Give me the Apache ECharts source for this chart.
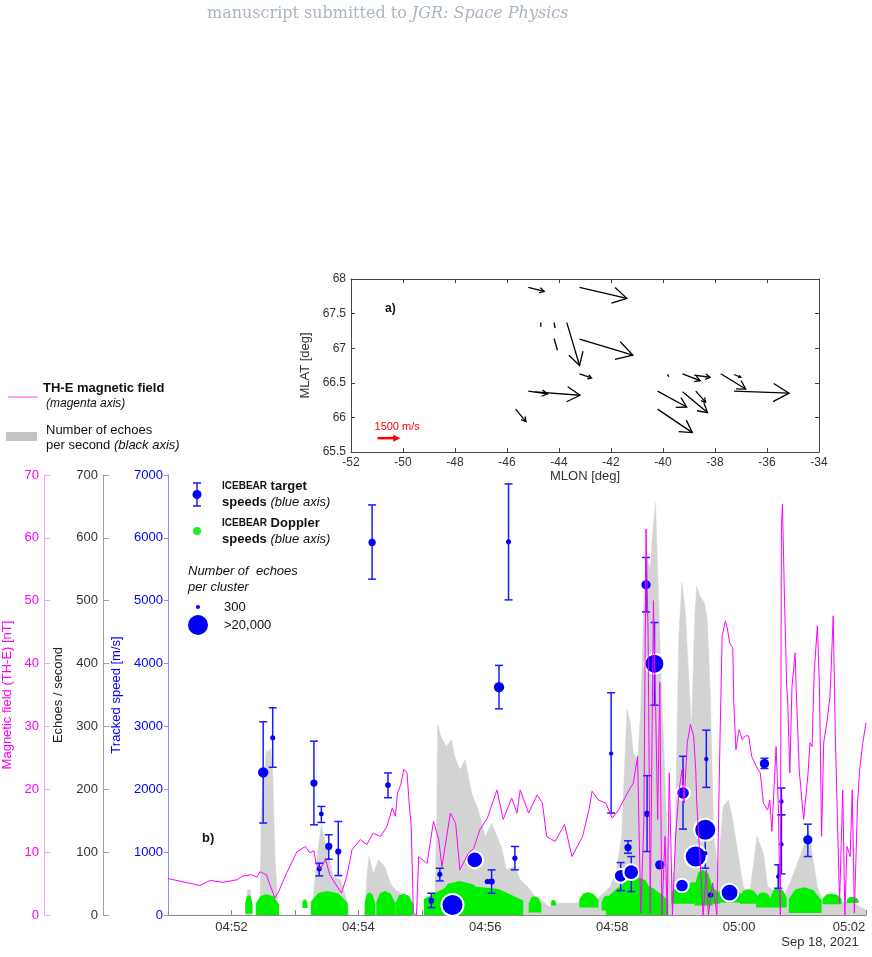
<!DOCTYPE html>
<html>
<head>
<meta charset="utf-8">
<script src="https://cdn.jsdelivr.net/npm/echarts@6/dist/echarts.min.js"></script>
<style>
  html, body { margin: 0; padding: 0; background: #fff; }
  #chart { width: 872px; height: 957px; }
</style>
</head>
<body>
<div id="chart"></div>
<script>
// ---- panel a: vectors [lon0, lat0, lon1, lat1] ----
const vectors = [
  [-45.18, 67.88, -44.57, 67.82],
  [-43.21, 67.88, -41.39, 67.72],
  [-43.70, 67.37, -43.21, 66.75],
  [-43.21, 67.13, -41.16, 66.90],
  [-43.21, 66.63, -42.75, 66.57],
  [-45.18, 66.38, -44.44, 66.34],
  [-44.93, 66.37, -43.19, 66.32],
  [-45.67, 66.12, -45.27, 65.94],
  [-40.21, 66.38, -39.09, 66.15],
  [-40.21, 66.12, -38.87, 65.78],
  [-39.25, 66.37, -38.29, 66.07],
  [-38.74, 66.38, -38.36, 66.22],
  [-39.25, 66.63, -38.57, 66.53],
  [-38.80, 66.61, -38.19, 66.58],
  [-37.78, 66.63, -36.82, 66.41],
  [-37.27, 66.62, -37.01, 66.58],
  [-37.27, 66.38, -35.15, 66.35]
];
const dashes = [
  [-44.70, 67.37, -44.70, 67.31],
  [-44.19, 67.37, -44.15, 67.29],
  [-44.19, 67.14, -44.06, 66.97],
  [-39.83, 66.62, -39.77, 66.59]
];
const scaleArrow = [[-50.98, 65.70, -50.10, 65.70]];
const scaleLabel = '1500 m/s';
const lonTicks = { min: -52, max: -34, step: 2 };
const latTicks = { min: 65.5, max: 68, step: 0.5 };

// ---- panel b: seconds after 04:51:00 ----
const magSec = [0,30,40,52,65,71,79,84,87,93,101,104,112,122,130,134,138,140,144,149,153,160,164,169,174,182,188,194,201,207,212,215,217,220,223,226,228,230,232,235,237,245,251,256,259,267,272,276,284,289,295,302,311,317,325,330,333,341,349,354,358,366,375,382,392,398,401,407,414,420,426,436,440,444,447,450,452,454,456,459,461,463,465,467,470,472,474,477,480,483,486,488,491,494,497,499,500,506,509,511,515,519,522,524,527,529,531,534,535,537,540,543,546,549,552,557,560,563,567,569,571,575,577,579,580,581,583,585,586,588,590,593,594,597,598,601,605,607,609,611,614,616,618,620,623,626,629,631,633,635,638,640,642,645,647,649,652,654,657,660];
const magNT = [5.8,4.7,5.5,5.2,5.6,6.2,6.4,6.0,6.9,6.4,2.7,3.5,6.6,10.1,10.9,9.9,10.2,8.2,7.3,8.8,6.4,4.5,3.5,6.1,10.4,12.0,11.2,13.0,12.5,14.1,17.0,15.7,19.4,20.7,23.2,22.6,17.8,14.1,0.3,0,9.3,8.2,14.9,12.0,7.7,16.2,14.6,7.2,9.8,10.6,13.6,15.4,19.9,15.2,18.6,16.2,19.9,16.2,19.1,17.8,12.5,11.7,14.4,9.3,12.5,16.7,19.7,18.3,17.8,15.4,16.7,19.9,21.0,25.2,0.3,15.2,61.4,44.4,0.3,50,33.8,15.2,37,0,12.5,0,22.6,0,12.5,19.4,23.1,17.8,27.4,30.3,28.5,23.1,17.8,0,7.2,0,5.1,0,28.5,44.4,46.8,45.5,43.3,42.5,33.8,26.3,29.5,27.9,28.5,28.5,25.2,23.4,22.6,17.8,16.7,18.3,13.3,26.8,17.8,0,61.9,65.4,49.7,36.4,33.8,22.6,36.4,41.7,35.9,22.6,21.0,15.2,22.1,27.4,26.8,38.5,46.0,36.4,12.5,27.4,30.6,34.8,47.6,28.5,15.2,1.9,19.9,0,10.9,9.3,19.9,0.3,17.8,23.1,27.4,30.6];

const echoSec = [0,74,75,78,79,87,88,90,92,93,95,97,99,101,103,105,136,138,141,145,148,153,156,163,169,171,186,188,190,194,199,205,210,215,220,226,229,252,254,255,258,263,268,271,276,281,287,292,296,300,306,315,320,328,333,340,347,353,360,370,385,393,405,418,424,429,434,437,440,444,447,450,453,456,458,461,463,466,469,472,475,479,483,486,489,492,495,498,500,503,507,510,513,516,520,525,530,534,539,544,550,557,563,567,582,588,595,601,606,609,614,620,626,636,645,654,660];
const echoCount = [0,0,40,40,0,0,150,230,240,263,258,266,230,100,35,0,0,40,93,143,120,88,61,56,24,0,0,60,93,66,88,77,51,40,35,24,0,0,141,303,284,268,279,252,231,247,194,173,151,125,146,109,72,77,56,45,30,24,13,19,19,24,24,45,72,125,327,306,258,242,327,497,571,550,603,656,550,391,258,125,45,72,444,529,486,391,295,470,523,507,497,470,338,125,72,173,183,151,98,45,35,125,98,45,29,51,82,109,136,98,45,19,29,19,24,13,8];

// Doppler clouds: [startSec, endSec, low m/s, high m/s]
const dopplerClouds = [
  [73,80,20,320],[83,105,0,330],
  [127,132,110,250],[135,170,0,380],
  [186,196,0,360],[197,215,0,380],[215,232,0,340],
  [242,336,0,460],[256,300,0,540],
  [341,353,40,300],[362,367,150,240],[389,407,120,360],[410,421,70,310],
  [414,473,0,480],[425,460,0,620],
  [476,522,180,520],[498,515,150,720],[519,543,200,440],
  [541,558,180,410],[556,571,120,360],[570,585,120,430],[587,618,30,440],
  [619,637,170,340],[642,653,190,290]
];

// target speeds: time, speed, error low, error high, echoes per cluster
const targetSec   = [90,99,138,145,143,152,161,193,208,249,257,269,290,306,302,328,313,322,419,452,460,453,435,428,438,465,487,486,499,508,509,508,513,531,564,580,580,577,605];
const targetSpeed = [2270,2818,2100,1606,734,1090,1010,5928,2068,228,649,160,877,532,532,904,3625,5938,2568,5253,3998,1610,1074,622,681,798,1941,468,930,1356,2483,984,319,356,2408,1127,1806,611,1196];
const targetLow   = [1463,2350,1435,1472,622,888,627,5343,1866,117,542,null,null,346,null,718,3280,5013,1622,4822,3338,1010,983,388,372,null,1367,null,null,null,2030,745,null,null,2330,654,1595,426,930];
const targetHigh  = [3073,3297,2765,1727,824,1276,1488,6524,2260,346,744,null,null,718,null,1090,3971,6858,3536,5688,4653,2217,1180,834,930,null,2525,null,null,null,2940,1260,null,null,2493,1595,2020,798,1445];
const targetCount = [3000,250,990,200,250,990,560,990,400,400,250,25000,10400,600,300,250,3000,250,100,2200,15800,560,990,6200,8900,2200,6200,6200,22000,25000,100,100,300,12100,2200,100,100,100,2200];

const timeLabels = ['04:52','04:54','04:56','04:58','05:00','05:02'];

const FONT = 'Liberation Sans';
const T0 = new Date(2021, 8, 18, 4, 51, 0).getTime();
const ts = s => T0 + s * 1000;
const sizeFor = n => 3 + 19 * Math.sqrt(Math.min(n, 20000) / 20000);
const plain = v => String(v);

function arrowItem(color, width, filled) {
  return function (params, api) {
    const a = api.coord([api.value(0), api.value(1)]);
    const b = api.coord([api.value(2), api.value(3)]);
    const dx = b[0] - a[0], dy = b[1] - a[1];
    const L = Math.hypot(dx, dy), ang = Math.atan2(dy, dx);
    const h = filled ? 8 : L * 0.33, w = filled ? Math.PI / 7 : Math.PI / 6;
    const p1 = [b[0] - h * Math.cos(ang - w), b[1] - h * Math.sin(ang - w)];
    const p2 = [b[0] - h * Math.cos(ang + w), b[1] - h * Math.sin(ang + w)];
    const kids = [
      { type: 'line', shape: { x1: a[0], y1: a[1], x2: filled ? b[0] - h * 0.8 : b[0], y2: b[1] },
        style: { stroke: color, lineWidth: width } }
    ];
    if (filled) {
      kids.push({ type: 'polygon', shape: { points: [p1, b, p2] }, style: { fill: color } });
      kids.push({ type: 'text', x: a[0] - 3, y: a[1] - 11,
        style: { text: scaleLabel, fill: color, font: '11px ' + FONT, verticalAlign: 'middle' } });
    } else {
      kids.push({ type: 'polyline', shape: { points: [p1, b, p2] },
        style: { stroke: color, lineWidth: width, fill: null } });
    }
    return { type: 'group', children: kids };
  };
}

const chart = echarts.init(document.getElementById('chart'), null, { renderer: 'canvas' });

const boxAxis = (pos, idx, r) => ({
  gridIndex: 0, type: 'value', position: pos, min: r.min, max: r.max, interval: r.step,
  axisLine: { show: true, lineStyle: { color: '#444', width: 1 } },
  axisTick: { show: true, inside: true, length: 4, lineStyle: { color: '#444' } },
  axisLabel: { show: idx === 0, color: '#333', fontSize: 12, fontFamily: FONT, margin: 5, formatter: plain },
  splitLine: { show: false }
});

const option = {
  animation: false,
  textStyle: { fontFamily: FONT },
  grid: [
    { left: 351, top: 279, width: 468, height: 173, outerBoundsMode: 'none', containLabel: false },
    { left: 168, top: 475, width: 698, height: 440, outerBoundsMode: 'none', containLabel: false }
  ],
  xAxis: [
    Object.assign(boxAxis('bottom', 0, lonTicks), {
      name: 'MLON [deg]', nameLocation: 'middle', nameGap: 14,
      nameTextStyle: { color: '#333', fontSize: 13, fontFamily: FONT }
    }),
    boxAxis('top', 1, lonTicks),
    {
      gridIndex: 1, type: 'time', min: ts(0), max: ts(660),
      minInterval: 120000, maxInterval: 120000,
      axisLine: { show: true, lineStyle: { color: '#888', width: 1 } },
      axisTick: { show: true, inside: true, length: 5, lineStyle: { color: '#888' } },
      axisLabel: {
        color: '#333', fontSize: 13, fontFamily: FONT, margin: 6, showMinLabel: false,
        formatter: v => {
          const t = echarts.time.format(v, '{HH}:{mm}', false);
          if (t === timeLabels[timeLabels.length - 1]) return '{end|' + t + '}';
          return timeLabels.indexOf(t) >= 0 ? t : '';
        },
        rich: { end: { fontSize: 13, fontFamily: FONT, color: '#333', padding: [0, 34, 0, 0] } }
      },
      splitLine: { show: false }
    }
  ],
  yAxis: [
    Object.assign(boxAxis('left', 0, latTicks), {
      name: 'MLAT [deg]', nameLocation: 'middle', nameGap: 24, nameRotate: 90,
      nameTextStyle: { color: '#333', fontSize: 13, fontFamily: FONT }
    }),
    boxAxis('right', 1, latTicks),
    {
      gridIndex: 1, type: 'value', position: 'left', offset: 0, min: 0, max: 7000, interval: 1000,
      name: 'Tracked speed [m/s]', nameLocation: 'middle', nameGap: 42, nameRotate: 90,
      nameTextStyle: { color: '#0000ff', fontSize: 13, fontFamily: FONT },
      axisLine: { show: true, lineStyle: { color: '#8c8cff' } },
      axisTick: { show: true, length: 4, lineStyle: { color: '#8c8cff' } },
      axisLabel: { color: '#0000ff', fontSize: 13, fontFamily: FONT, margin: 5, formatter: plain },
      splitLine: { show: false }
    },
    {
      gridIndex: 1, type: 'value', position: 'left', offset: 65, min: 0, max: 700, interval: 100,
      name: 'Echoes / second', nameLocation: 'middle', nameGap: 36, nameRotate: 90,
      nameTextStyle: { color: '#222', fontSize: 13, fontFamily: FONT },
      axisLine: { show: true, lineStyle: { color: '#a0a0a0' } },
      axisTick: { show: true, inside: true, length: 6, lineStyle: { color: '#a0a0a0' } },
      axisLabel: { color: '#333', fontSize: 13, fontFamily: FONT, margin: 5, formatter: plain },
      splitLine: { show: false }
    },
    {
      gridIndex: 1, type: 'value', position: 'left', offset: 124, min: 0, max: 70, interval: 10,
      name: 'Magnetic field (TH-E) [nT]', nameLocation: 'middle', nameGap: 28, nameRotate: 90,
      nameTextStyle: { color: '#ff00ff', fontSize: 13, fontFamily: FONT },
      axisLine: { show: true, lineStyle: { color: '#f7a6f7' } },
      axisTick: { show: true, inside: true, length: 6, lineStyle: { color: '#f7a6f7' } },
      axisLabel: { color: '#ff00ff', fontSize: 13, fontFamily: FONT, margin: 5, formatter: plain },
      splitLine: { show: false }
    }
  ],
  series: [
    {
      type: 'custom', xAxisIndex: 0, yAxisIndex: 0, z: 3,
      data: vectors, encode: { x: [0, 2], y: [1, 3] },
      renderItem: arrowItem('#000', 1.3, false)
    },
    {
      type: 'custom', xAxisIndex: 0, yAxisIndex: 0, z: 3,
      data: dashes, encode: { x: [0, 2], y: [1, 3] },
      renderItem: (params, api) => {
        const a = api.coord([api.value(0), api.value(1)]);
        const b = api.coord([api.value(2), api.value(3)]);
        return { type: 'line', shape: { x1: a[0], y1: a[1], x2: b[0], y2: b[1] },
          style: { stroke: '#000', lineWidth: 1.3 } };
      }
    },
    {
      type: 'custom', xAxisIndex: 0, yAxisIndex: 0, z: 3,
      data: scaleArrow, encode: { x: [0, 2], y: [1, 3] },
      renderItem: arrowItem('#ff0000', 2.5, true)
    },
    {
      name: 'echoes', type: 'line', xAxisIndex: 2, yAxisIndex: 3, z: 1,
      data: echoSec.map((s, i) => [ts(s), echoCount[i]]),
      symbol: 'none', lineStyle: { width: 0.5, color: '#d3d3d3' },
      areaStyle: { color: '#d3d3d3', opacity: 1 }
    },
    {
      name: 'doppler', type: 'custom', xAxisIndex: 2, yAxisIndex: 2, z: 2,
      data: dopplerClouds.map(d => [ts(d[0]), ts(d[1]), d[2], d[3]]),
      encode: { x: [0, 1], y: [2, 3] },
      renderItem: (params, api) => {
        const a = api.coord([api.value(0), api.value(2)]);
        const b = api.coord([api.value(1), api.value(3)]);
        const w = b[0] - a[0], h = a[1] - b[1];
        const pts = [
          [a[0], a[1]], [a[0], a[1] - h * 0.55], [a[0] + w * 0.2, b[1] + h * 0.08],
          [a[0] + w * 0.45, b[1]], [a[0] + w * 0.75, b[1] + h * 0.1],
          [b[0], a[1] - h * 0.5], [b[0], a[1]]
        ];
        return { type: 'polygon', shape: { points: pts }, style: { fill: '#00f000' } };
      }
    },
    {
      name: 'errbars', type: 'custom', xAxisIndex: 2, yAxisIndex: 2, z: 3,
      data: targetSec.map((s, i) => [ts(s), targetLow[i], targetHigh[i]]).filter(d => d[1] != null),
      encode: { x: 0, y: [1, 2] },
      renderItem: (params, api) => {
        const lo = api.coord([api.value(0), api.value(1)]);
        const hi = api.coord([api.value(0), api.value(2)]);
        const st = { stroke: '#1a1aff', lineWidth: 1.5 };
        return { type: 'group', children: [
          { type: 'line', shape: { x1: lo[0], y1: lo[1], x2: hi[0], y2: hi[1] }, style: st },
          { type: 'line', shape: { x1: hi[0] - 4, y1: hi[1], x2: hi[0] + 4, y2: hi[1] }, style: st },
          { type: 'line', shape: { x1: lo[0] - 4, y1: lo[1], x2: lo[0] + 4, y2: lo[1] }, style: st }
        ] };
      }
    },
    {
      name: 'targets', type: 'scatter', xAxisIndex: 2, yAxisIndex: 2, z: 4,
      data: targetSec.map((s, i) => ({
        value: [ts(s), targetSpeed[i], targetCount[i]],
        itemStyle: targetCount[i] >= 5000 ? { borderColor: '#fff', borderWidth: 2 } : {}
      })),
      symbolSize: v => sizeFor(v[2]),
      itemStyle: { color: '#0000f5', opacity: 1 }
    },
    {
      name: 'mag', type: 'line', xAxisIndex: 2, yAxisIndex: 4, z: 5,
      data: magSec.map((s, i) => [ts(s), magNT[i]]),
      symbol: 'none', lineStyle: { width: 1, color: '#ff00ff' }
    }
  ],
  graphic: [
    { type: 'text', x: 207, y: 14, style: {
        text: 'manuscript submitted to {i|JGR: Space Physics}',
        font: '16px "DejaVu Serif"', fill: '#a9b5c2', verticalAlign: 'middle',
        rich: { i: { fontStyle: 'italic', fontFamily: 'DejaVu Serif', fontSize: 16, fill: '#a9b5c2' } } } },
    { type: 'text', x: 385, y: 309, style: { text: 'a)', font: 'bold 12px ' + FONT, fill: '#111', verticalAlign: 'middle' } },
    { type: 'text', x: 202, y: 838, style: { text: 'b)', font: 'bold 13px ' + FONT, fill: '#111', verticalAlign: 'middle' } },
    { type: 'text', x: 820, y: 942, style: { text: 'Sep 18, 2021', font: '13px ' + FONT, fill: '#333', align: 'center', verticalAlign: 'middle' } },

    // outer legend
    { type: 'line', shape: { x1: 8, y1: 397, x2: 38, y2: 397 }, style: { stroke: '#ff40ff', lineWidth: 1 } },
    { type: 'text', x: 43, y: 388, style: { text: 'TH-E magnetic field', font: 'bold 13px ' + FONT, fill: '#111', verticalAlign: 'middle' } },
    { type: 'text', x: 46, y: 404, style: { text: '(magenta axis)', font: 'italic 12px ' + FONT, fill: '#111', verticalAlign: 'middle' } },
    { type: 'rect', shape: { x: 6, y: 432, width: 31, height: 9 }, style: { fill: '#c4c4c4' } },
    { type: 'text', x: 46, y: 430, style: { text: 'Number of echoes', font: '13px ' + FONT, fill: '#111', verticalAlign: 'middle' } },
    { type: 'text', x: 46, y: 445, style: {
        text: 'per second {i|(black axis)}', font: '13px ' + FONT, fill: '#111', verticalAlign: 'middle',
        rich: { i: { fontStyle: 'italic', fontSize: 13, fontFamily: FONT, fill: '#111' } } } },

    // inner legend
    { type: 'line', shape: { x1: 197, y1: 483, x2: 197, y2: 506 }, style: { stroke: '#1a1aff', lineWidth: 1.5 } },
    { type: 'line', shape: { x1: 193, y1: 483, x2: 201, y2: 483 }, style: { stroke: '#1a1aff', lineWidth: 1.5 } },
    { type: 'line', shape: { x1: 193, y1: 506, x2: 201, y2: 506 }, style: { stroke: '#1a1aff', lineWidth: 1.5 } },
    { type: 'circle', shape: { cx: 197, cy: 494.5, r: 4.5 }, style: { fill: '#0000f5' } },
    { type: 'text', x: 222, y: 486, style: {
        text: '{sc|ICEBEAR} target', font: 'bold 13px ' + FONT, fill: '#111', verticalAlign: 'middle',
        rich: { sc: { fontSize: 10, fontWeight: 'bold', fontFamily: FONT, fill: '#111' } } } },
    { type: 'text', x: 222, y: 502, style: {
        text: 'speeds {i|(blue axis)}', font: 'bold 13px ' + FONT, fill: '#111', verticalAlign: 'middle',
        rich: { i: { fontStyle: 'italic', fontWeight: 'normal', fontSize: 13, fontFamily: FONT, fill: '#111' } } } },
    { type: 'circle', shape: { cx: 197, cy: 531, r: 4 }, style: { fill: '#22ee22' } },
    { type: 'text', x: 222, y: 523, style: {
        text: '{sc|ICEBEAR} Doppler', font: 'bold 13px ' + FONT, fill: '#111', verticalAlign: 'middle',
        rich: { sc: { fontSize: 10, fontWeight: 'bold', fontFamily: FONT, fill: '#111' } } } },
    { type: 'text', x: 222, y: 539, style: {
        text: 'speeds {i|(blue axis)}', font: 'bold 13px ' + FONT, fill: '#111', verticalAlign: 'middle',
        rich: { i: { fontStyle: 'italic', fontWeight: 'normal', fontSize: 13, fontFamily: FONT, fill: '#111' } } } },
    { type: 'text', x: 188, y: 571, style: { text: 'Number of  echoes', font: 'italic 13px ' + FONT, fill: '#111', verticalAlign: 'middle' } },
    { type: 'text', x: 188, y: 587, style: { text: 'per cluster', font: 'italic 13px ' + FONT, fill: '#111', verticalAlign: 'middle' } },
    { type: 'circle', shape: { cx: 198, cy: 607, r: 2 }, style: { fill: '#0000f5' } },
    { type: 'text', x: 224, y: 607, style: { text: '300', font: '13px ' + FONT, fill: '#111', verticalAlign: 'middle' } },
    { type: 'circle', shape: { cx: 198, cy: 625, r: 10 }, style: { fill: '#0000f5' } },
    { type: 'text', x: 224, y: 625, style: { text: '>20,000', font: '13px ' + FONT, fill: '#111', verticalAlign: 'middle' } }
  ]
};

chart.setOption(option);
window.addEventListener('resize', () => chart.resize());
</script>
</body>
</html>
